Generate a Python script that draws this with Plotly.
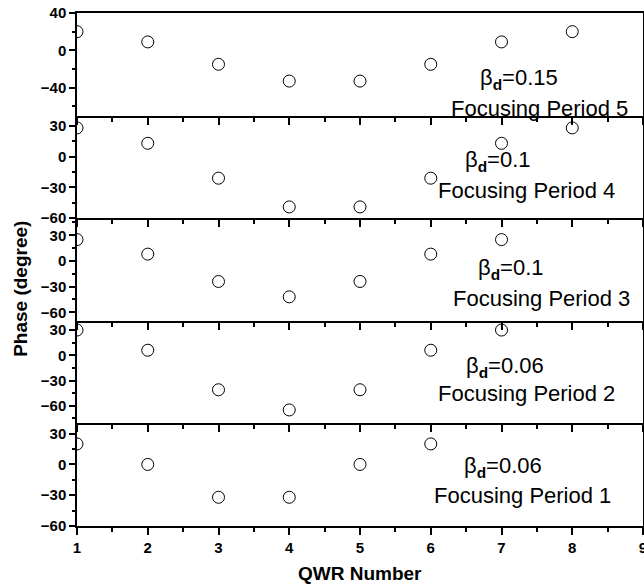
import plotly.graph_objects as go
from plotly.subplots import make_subplots

# ---- data (top panel first) ----
qwr_p5 = [1, 2, 3, 4, 5, 6, 7, 8]
phase_p5 = [20, 9, -15, -33, -33, -15, 9, 20]
qwr_p4 = [1, 2, 3, 4, 5, 6, 7, 8]
phase_p4 = [28, 13, -21, -49, -49, -21, 13, 28]
qwr_p3 = [1, 2, 3, 4, 5, 6, 7]
phase_p3 = [25, 8, -24, -42, -24, 8, 25]
qwr_p2 = [1, 2, 3, 4, 5, 6, 7]
phase_p2 = [30, 6, -41, -65, -41, 6, 30]
qwr_p1 = [1, 2, 3, 4, 5, 6]
phase_p1 = [20, 0, -32, -32, 0, 20]

beta_labels = ["0.15", "0.1", "0.1", "0.06", "0.06"]
period_labels = ["Focusing Period 5", "Focusing Period 4", "Focusing Period 3",
                 "Focusing Period 2", "Focusing Period 1"]

y_ranges = [[-70, 40], [-60, 40], [-70, 50], [-81, 41], [-60, 40]]
y_dticks = [40, 30, 30, 30, 30]

# label positions (data coords of each panel)
beta_pos = [(7.25, -31), (6.95, -4.5), (7.13, -9.8), (7.05, -14.5), (7.02, -2.4)]
period_pos = [(7.54, -62.5), (7.36, -33.2), (7.56, -43.5), (7.36, -45), (7.30, -30.7)]

series = [(qwr_p5, phase_p5), (qwr_p4, phase_p4), (qwr_p3, phase_p3),
          (qwr_p2, phase_p2), (qwr_p1, phase_p1)]

FONT = "Liberation Sans, Arial, sans-serif"

fig = make_subplots(rows=5, cols=1, shared_xaxes=True, vertical_spacing=0)

for i, (xs, ys) in enumerate(series):
    r = i + 1
    fig.add_trace(go.Scatter(
        x=xs, y=ys, mode="markers",
        marker=dict(symbol="circle-open", size=12, color="black",
                    line=dict(width=1, color="black")),
        showlegend=False, cliponaxis=True), row=r, col=1)
    fig.update_yaxes(
        range=y_ranges[i], dtick=y_dticks[i], tick0=0, automargin=False,
        ticks="outside", ticklen=6, tickwidth=1.5, tickcolor="black",
        minor=dict(dtick=y_dticks[i] / 2, tick0=0, ticks="outside", ticklen=3,
                   tickwidth=1.5, tickcolor="black"),
        showline=True, linewidth=1.5, linecolor="black", mirror=True,
        showgrid=False, zeroline=False, ticklabeloverflow="allow",
        tickfont=dict(family=FONT, size=15, color="black", weight="bold"),
        row=r, col=1)
    fig.update_xaxes(
        range=[1, 9], dtick=1, tick0=1, automargin=False,
        ticks="outside", ticklen=7, tickwidth=1.5, tickcolor="black",
        minor=dict(dtick=0.5, tick0=1, ticks="outside", ticklen=4,
                   tickwidth=1.5, tickcolor="black"),
        showline=True, linewidth=1.8, linecolor="black", mirror=(r == 1),
        showgrid=False, zeroline=False, ticklabeloverflow="allow",
        tickfont=dict(family=FONT, size=15, color="black", weight="bold"),
        row=r, col=1)

    xref = "x" if r == 1 else f"x{r}"
    yref = "y" if r == 1 else f"y{r}"
    bx, by = beta_pos[i]
    fig.add_annotation(x=bx, y=by, xref=xref, yref=yref,
                       text=f"β<sub><b>d</b></sub>={beta_labels[i]}",
                       showarrow=False, xanchor="center", yanchor="middle",
                       font=dict(family=FONT, size=22, color="black"))
    px_, py_ = period_pos[i]
    fig.add_annotation(x=px_, y=py_, xref=xref, yref=yref,
                       text=period_labels[i],
                       showarrow=False, xanchor="center", yanchor="middle",
                       font=dict(family=FONT, size=22, color="black"))

fig.update_xaxes(showticklabels=True, row=5, col=1)

fig.add_annotation(x=-0.101, y=0.5 - (289 - 269.5) / 513, xref="paper", yref="paper",
                   text="Phase (degree)", textangle=-90, showarrow=False,
                   xanchor="center", yanchor="middle",
                   font=dict(family=FONT, size=19, color="black", weight="bold"))
fig.add_annotation(x=0.5, y=-(573 - 526) / 513, xref="paper", yref="paper",
                   text="QWR Number", showarrow=False,
                   xanchor="center", yanchor="middle",
                   font=dict(family=FONT, size=19, color="black", weight="bold"))

fig.update_layout(
    width=644, height=585,
    margin=dict(l=77, r=1, t=13, b=59, autoexpand=False),
    paper_bgcolor="white", plot_bgcolor="white",
    font=dict(family=FONT, color="black"),
)

fig.write_html("out.html", config={"displayModeBar": False},
               post_script="document.body.style.margin='0';document.body.style.overflow='hidden';")
